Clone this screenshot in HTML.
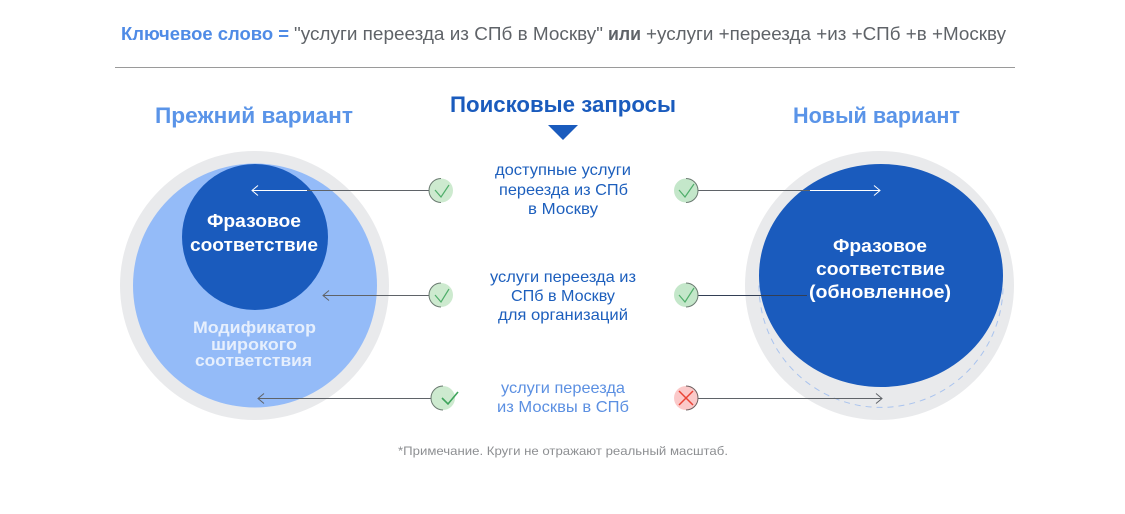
<!DOCTYPE html>
<html lang="ru">
<head>
<meta charset="utf-8">
<title>Фразовое соответствие</title>
<style>
html,body{margin:0;padding:0;background:#fff;width:1125px;height:514px;overflow:hidden}
svg{display:block}
text{font-family:"Liberation Sans",sans-serif}
.b{font-weight:700}
.m{font-size:16px;fill:#1d5fbd}
.l{font-size:16px;fill:#5c90e2}
.w{font-size:18px;font-weight:700;fill:#fff}
.p{font-size:17px;font-weight:700;fill:#e6effd}
</style>
</head>
<body>
<svg width="1125" height="514" viewBox="0 0 1125 514" xmlns="http://www.w3.org/2000/svg">
<rect width="1125" height="514" fill="#fff"/>

<!-- Top line -->
<text x="121" y="40" font-size="18" class="b" fill="#4f8be6" textLength="168" lengthAdjust="spacingAndGlyphs">Ключевое слово =</text>
<text x="294" y="40" font-size="18" fill="#5f6368" textLength="309" lengthAdjust="spacingAndGlyphs">"услуги переезда из СПб в Москву"</text>
<text x="608" y="40" font-size="18" class="b" fill="#5f6368" textLength="33" lengthAdjust="spacingAndGlyphs">или</text>
<text x="646" y="40" font-size="18" fill="#5f6368" textLength="360" lengthAdjust="spacingAndGlyphs">+услуги +переезда +из +СПб +в +Москву</text>
<line x1="115" y1="67.5" x2="1015" y2="67.5" stroke="#9a9a9a" stroke-width="1"/>

<!-- Headings -->
<text x="155" y="123" font-size="22" class="b" fill="#5a94e8" textLength="198" lengthAdjust="spacingAndGlyphs">Прежний вариант</text>
<text x="793" y="123" font-size="22" class="b" fill="#5a94e8" textLength="167" lengthAdjust="spacingAndGlyphs">Новый вариант</text>
<text x="450" y="112" font-size="22" class="b" fill="#1a5bbd" textLength="226" lengthAdjust="spacingAndGlyphs">Поисковые запросы</text>
<polygon points="548,125 578,125 563,140" fill="#1a5bbd"/>

<!-- Left circles -->
<circle cx="254.5" cy="285.5" r="134.5" fill="#e9eaec"/>
<circle cx="255" cy="285.5" r="122" fill="#94bbf8"/>
<circle cx="255" cy="237" r="73" fill="#1a5bbd"/>
<text x="207" y="227" class="w" textLength="94" lengthAdjust="spacingAndGlyphs">Фразовое</text>
<text x="190" y="251" class="w" textLength="128" lengthAdjust="spacingAndGlyphs">соответствие</text>
<text x="193" y="333" class="p" textLength="123" lengthAdjust="spacingAndGlyphs">Модификатор</text>
<text x="211" y="350" class="p" textLength="86" lengthAdjust="spacingAndGlyphs">широкого</text>
<text x="195" y="366" class="p" textLength="117" lengthAdjust="spacingAndGlyphs">соответствия</text>

<!-- Right circles -->
<circle cx="879.5" cy="285.5" r="134.5" fill="#e9eaec"/>
<path d="M759 285.5A122 122 0 0 0 1003 285.5" fill="none" stroke="#a9c3ee" stroke-width="1" stroke-dasharray="6 5"/>
<ellipse cx="881" cy="275.5" rx="122" ry="111.5" fill="#1a5bbd"/>
<text x="833" y="252" class="w" textLength="94" lengthAdjust="spacingAndGlyphs">Фразовое</text>
<text x="816" y="275" class="w" textLength="129" lengthAdjust="spacingAndGlyphs">соответствие</text>
<text x="809" y="298" class="w" textLength="142" lengthAdjust="spacingAndGlyphs">(обновленное)</text>

<!-- Left connectors -->
<g fill="none" stroke-width="1">
<line x1="429" y1="190.5" x2="307" y2="190.5" stroke="#5f6368"/>
<path d="M307 190.5H252M258 185.5L252 190.5L258 195.5" stroke="#fff"/>
<path d="M429 295.5H323M329 290.5L323 295.5L329 300.5" stroke="#5f6368"/>
<path d="M431 398.5H258M264 393.5L258 398.5L264 403.5" stroke="#5f6368"/>
</g>

<!-- Right connectors -->
<g fill="none" stroke-width="1">
<line x1="698" y1="190.5" x2="810" y2="190.5" stroke="#5f6368"/>
<path d="M810 190.5H880M874 185.5L880 190.5L874 195.5" stroke="#fff"/>
<line x1="698" y1="295.5" x2="807" y2="295.5" stroke="#333f55"/>
<path d="M698 398.5H882M876 393.5L882 398.5L876 403.5" stroke="#5f6368"/>
</g>

<!-- Left icons -->
<g>
<circle cx="441" cy="190.5" r="12" fill="#cdeacf"/>
<path d="M441 178.5A12 12 0 0 0 441 202.5" fill="none" stroke="#6a7a70" stroke-width="1"/>
<path d="M435 190L441 197L449 185" fill="none" stroke="#4fae6a" stroke-width="1.2"/>
<circle cx="441" cy="295" r="12" fill="#cdeacf"/>
<path d="M441 283A12 12 0 0 0 441 307" fill="none" stroke="#6a7a70" stroke-width="1"/>
<path d="M435 295L441 302L449 289" fill="none" stroke="#4fae6a" stroke-width="1.2"/>
<circle cx="443" cy="398" r="12" fill="#cdeacf"/>
<path d="M443 386A12 12 0 0 0 443 410" fill="none" stroke="#6a7a70" stroke-width="1"/>
<path d="M442 398L448 404L458 392" fill="none" stroke="#3fa45c" stroke-width="1.6"/>
</g>

<!-- Right icons -->
<g>
<circle cx="686" cy="190.5" r="12" fill="#c4e7ca"/>
<path d="M686 178.5A12 12 0 0 1 686 202.5" fill="none" stroke="#6a7a70" stroke-width="1"/>
<path d="M679 190L685 197L694 184" fill="none" stroke="#4fae6a" stroke-width="1.2"/>
<circle cx="686" cy="295" r="12" fill="#c4e7ca"/>
<path d="M686 283A12 12 0 0 1 686 307" fill="none" stroke="#6a7a70" stroke-width="1"/>
<path d="M679 295L685 302L694 288" fill="none" stroke="#4fae6a" stroke-width="1.2"/>
<circle cx="686" cy="398" r="12" fill="#fbc9c9"/>
<path d="M686 386A12 12 0 0 1 686 410" fill="none" stroke="#6f5f5f" stroke-width="1"/>
<path d="M679 391L693 405M693 391L679 405" fill="none" stroke="#ea4335" stroke-width="1.5"/>
</g>

<!-- Middle labels -->
<text x="495" y="175" class="m" textLength="136" lengthAdjust="spacingAndGlyphs">доступные услуги</text>
<text x="499" y="195" class="m" textLength="129" lengthAdjust="spacingAndGlyphs">переезда из СПб</text>
<text x="528" y="214" class="m" textLength="70" lengthAdjust="spacingAndGlyphs">в Москву</text>
<text x="490" y="282" class="m" textLength="146" lengthAdjust="spacingAndGlyphs">услуги переезда из</text>
<text x="511" y="301" class="m" textLength="104" lengthAdjust="spacingAndGlyphs">СПб в Москву</text>
<text x="498" y="320" class="m" textLength="130" lengthAdjust="spacingAndGlyphs">для организаций</text>
<text x="501" y="393" class="l" textLength="124" lengthAdjust="spacingAndGlyphs">услуги переезда</text>
<text x="497" y="412" class="l" textLength="132" lengthAdjust="spacingAndGlyphs">из Москвы в СПб</text>

<!-- Footnote -->
<text x="398" y="455" font-size="12" fill="#8d8f92" textLength="330" lengthAdjust="spacingAndGlyphs">*Примечание. Круги не отражают реальный масштаб.</text>
</svg>
</body>
</html>
